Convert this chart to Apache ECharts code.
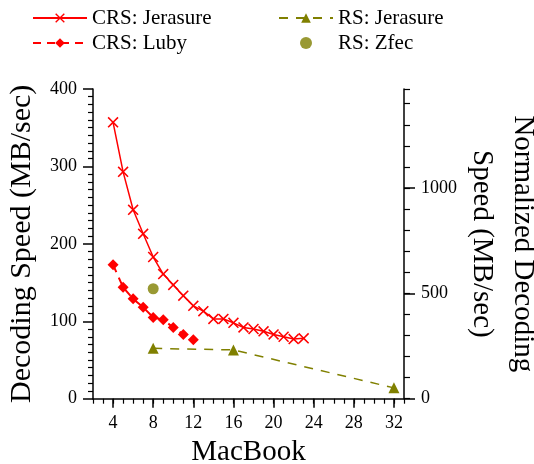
<!DOCTYPE html>
<html>
<head>
<meta charset="utf-8">
<script src="https://cdn.jsdelivr.net/npm/echarts@6/dist/echarts.min.js"></script>
<style>
  html, body { margin: 0; padding: 0; background: #fff; }
  #chart { width: 534px; height: 464px; }
</style>
</head>
<body>
<div id="chart"></div>
<script>
// 数据
var crsJerasureX = [4, 5, 6, 7, 8, 9, 10, 11, 12, 13, 14, 15, 16, 17, 18, 19, 20, 21, 22, 23];
var crsJerasureY = [357, 293, 244, 213, 183, 161, 147, 133, 120, 113, 103, 103, 98, 92, 90, 87, 83, 80, 77, 78];
var crsLubyX = [4, 5, 6, 7, 8, 9, 10, 11, 12];
var crsLubyY = [173, 144, 129, 118, 105, 102, 92, 83, 76];
var rsJerasureX = [8, 16, 32];
var rsJerasureY = [65, 63, 14];
var rsZfecX = [8];
var rsZfecY = [142];
var xTicks = [4, 8, 12, 16, 20, 24, 28, 32];
var rightTicks = [0, 500, 1000];

var FONT = "'Liberation Serif', 'Times New Roman', serif";
var RED = '#ff0000';
var OLIVE = '#808000';
var crossPath = 'path://M0,1 L1,0 L5,4 L9,0 L10,1 L6,5 L10,9 L9,10 L5,6 L1,10 L0,9 L4,5 Z';

function pairs(xs, ys) {
    var out = [];
    for (var i = 0; i < xs.length; i++) {
        out.push([xs[i], ys[i]]);
    }
    return out;
}

var myChart = echarts.init(document.getElementById('chart'), null, {renderer: 'canvas'});

var option = {
    animation: false,
    backgroundColor: '#fff',
    textStyle: {fontFamily: FONT, color: '#000'},
    grid: {left: 93, right: 130, top: 89, bottom: 65.3, containLabel: false, outerBoundsMode: 'none'},
    legend: [{
        orient: 'vertical',
        left: 32,
        top: 6,
        padding: 0,
        itemWidth: 54,
        itemHeight: 12,
        itemGap: 1,
        textStyle: {fontFamily: FONT, fontSize: 21, lineHeight: 24, color: '#000'},
        data: ['CRS: Jerasure', 'CRS: Luby']
    }, {
        orient: 'vertical',
        left: 278,
        top: 6,
        padding: 0,
        itemWidth: 54,
        itemHeight: 12,
        itemGap: 1,
        textStyle: {fontFamily: FONT, fontSize: 21, lineHeight: 24, color: '#000'},
        data: ['RS: Jerasure', 'RS: Zfec']
    }],
    xAxis: [{
        type: 'value',
        min: 2,
        max: 33,
        name: 'MacBook',
        nameLocation: 'middle',
        nameGap: 37,
        nameTextStyle: {fontFamily: FONT, fontSize: 29, lineHeight: 29, color: '#000'},
        axisLine: {show: true, onZero: false, lineStyle: {color: '#000', width: 1.5}},
        axisTick: {show: true, inside: false, length: 9, customValues: xTicks, lineStyle: {color: '#000', width: 1.5}},
        axisLabel: {customValues: xTicks, margin: 16, fontFamily: FONT, fontSize: 18, color: '#000'},
        splitLine: {show: false}
    }, {
        // 次刻度
        type: 'value',
        min: 2,
        max: 33,
        interval: 1,
        position: 'bottom',
        axisLine: {show: false},
        axisTick: {show: true, inside: false, length: 5, lineStyle: {color: '#000', width: 1.2}},
        axisLabel: {show: false},
        splitLine: {show: false}
    }],
    yAxis: [{
        type: 'value',
        min: 0,
        max: 400,
        interval: 100,
        position: 'left',
        name: 'Decoding Speed (MB/sec)',
        nameLocation: 'middle',
        nameGap: 56,
        nameTextStyle: {fontFamily: FONT, fontSize: 30, color: '#000'},
        axisLine: {show: true, onZero: false, lineStyle: {color: '#000', width: 1.5}},
        axisTick: {show: true, inside: false, length: 10, lineStyle: {color: '#000', width: 1.5}},
        minorTick: {show: true, splitNumber: 10, length: 5, lineStyle: {color: '#000', width: 1.2}},
        axisLabel: {margin: 16, fontFamily: FONT, fontSize: 18, color: '#000'},
        splitLine: {show: false},
        minorSplitLine: {show: false}
    }, {
        // 右轴次刻度
        type: 'value',
        min: 0,
        max: 1470,
        interval: 100,
        position: 'right',
        axisLine: {show: true, onZero: false, lineStyle: {color: '#000', width: 1.5}},
        axisTick: {show: true, inside: false, length: 6, lineStyle: {color: '#000', width: 1.2}},
        axisLabel: {show: false},
        splitLine: {show: false}
    }, {
        type: 'value',
        min: 0,
        max: 1470,
        position: 'right',
        name: 'Normalized Decoding\nSpeed (MB/sec)',
        nameLocation: 'middle',
        nameRotate: -90,
        nameGap: 57,
        nameMoveOverlap: false,
        nameTextStyle: {fontFamily: FONT, fontSize: 29, lineHeight: 41, color: '#000'},
        axisLine: {show: false},
        axisTick: {show: true, inside: false, length: 11, customValues: rightTicks, lineStyle: {color: '#000', width: 1.5}},
        axisLabel: {
            customValues: rightTicks, margin: 17, fontFamily: FONT, fontSize: 18, color: '#000',
            formatter: function (v) { return String(v); }
        },
        splitLine: {show: false}
    }],
    series: [{
        name: 'CRS: Jerasure',
        type: 'line',
        data: pairs(crsJerasureX, crsJerasureY),
        symbol: crossPath,
        symbolSize: 11,
        showAllSymbol: true,
        lineStyle: {color: RED, width: 1.5},
        itemStyle: {color: RED}
    }, {
        name: 'CRS: Luby',
        type: 'line',
        data: pairs(crsLubyX, crsLubyY),
        symbol: 'diamond',
        symbolSize: 11,
        showAllSymbol: true,
        lineStyle: {color: RED, width: 2, type: [8, 6]},
        itemStyle: {color: RED}
    }, {
        name: 'RS: Jerasure',
        type: 'line',
        data: pairs(rsJerasureX, rsJerasureY),
        symbol: 'triangle',
        symbolSize: 11,
        lineStyle: {color: OLIVE, width: 1.5, type: [9, 8]},
        itemStyle: {color: OLIVE}
    }, {
        name: 'RS: Zfec',
        type: 'scatter',
        data: pairs(rsZfecX, rsZfecY),
        symbol: 'circle',
        symbolSize: 11,
        itemStyle: {color: OLIVE}
    }]
};
myChart.setOption(option);
</script>
</body>
</html>
